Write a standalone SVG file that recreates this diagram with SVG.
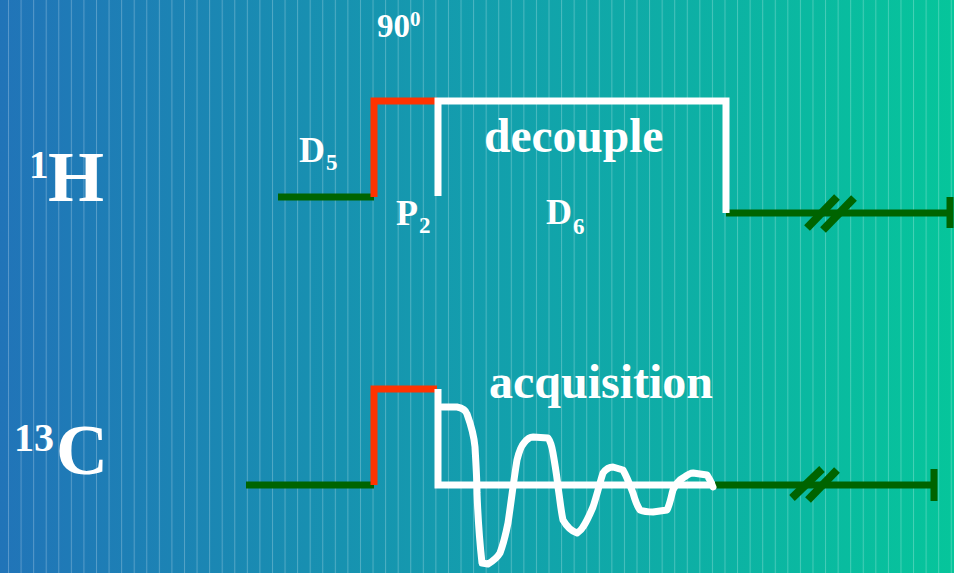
<svg xmlns="http://www.w3.org/2000/svg" width="954" height="573" viewBox="0 0 954 573">
<defs>
<linearGradient id="bg" x1="0" y1="0" x2="1" y2="0">
<stop offset="0" stop-color="#2174b8"/>
<stop offset="0.5" stop-color="#139ead"/>
<stop offset="1" stop-color="#06c59b"/>
</linearGradient>
<pattern id="stripes" x="8" y="0" width="12.57" height="573" patternUnits="userSpaceOnUse">
<rect x="0" y="0" width="1" height="573" fill="#ffffff" fill-opacity="0.25"/>
</pattern>
</defs>
<style>
.t{font-family:"Liberation Serif","Times New Roman",serif;font-weight:bold;fill:#ffffff}
.g{stroke:#006400;stroke-width:7;fill:none}
.r{stroke:#ff3300;stroke-width:7;fill:none}
.w{stroke:#ffffff;stroke-width:7;fill:none}
.s{stroke:#006400;stroke-width:8;fill:none}
</style>
<rect width="954" height="573" fill="url(#bg)"/>
<rect width="954" height="573" fill="url(#stripes)"/>
<g id="connectors">
<line class="g" x1="278" y1="197" x2="374" y2="197"/>
<line class="g" x1="726" y1="213" x2="950" y2="213"/>
<line class="g" x1="950" y1="197" x2="950" y2="228"/>
<line class="s" x1="807" y1="228" x2="837" y2="197"/>
<line class="s" x1="823" y1="230" x2="854" y2="198"/>
<line class="g" x1="246" y1="485" x2="374" y2="485"/>
<line class="g" x1="713" y1="485" x2="934" y2="485"/>
<line class="g" x1="934" y1="469" x2="934" y2="501"/>
<line class="s" x1="792" y1="498" x2="822" y2="469"/>
<line class="s" x1="808" y1="500" x2="837" y2="470"/>
</g>
<g id="h-pulse">
<polyline class="r" points="374,197 374,101 437,101"/>
<polyline class="w" points="438,196 438,101 726,101 726,213"/>
</g>
<g id="c-pulse">
<polyline class="r" points="374,485 374,389 437,389"/>
<polyline class="w" points="438,389 438,485 715,485"/>
</g>
<g id="fid">
<path class="w" stroke-linejoin="round" stroke-linecap="round" d="M442,407 L457,407 C463,408 466,411 467,414 C471,425 474,436 475,447 C476,465 477,480 477,493 C478,520 480,545 482,563 L488,564 C493,561 497,558 500,553 C503,545 506,533 508,523 C511,503 514,478 517,460 C519,452 521,446 524,443 C527,439 530,437 533,437 L548,438 C551,442 552,447 553,453 C555,465 557,476 558,487 C560,500 561,511 563,520 C567,527 571,531 577,533 C580,531 582,529 583,527 C587,521 590,514 593,507 C597,495 600,482 603,473 C606,469 609,467 613,467 L623,470 C627,477 630,485 633,493 C635,500 637,506 640,510 C645,512 649,512 653,512 L667,510 C670,504 671,497 673,490 C676,484 679,480 683,478 C687,475 690,473 693,473 L707,475 C709,478 711,481 713,487"/>
</g>
<g id="labels">
<text class="t" x="377" y="37" font-size="33">90</text>
<text class="t" x="410" y="26" font-size="21">0</text>
<text class="t" x="299" y="162" font-size="36">D</text>
<text class="t" x="326" y="170" font-size="23">5</text>
<text class="t" x="396" y="225" font-size="36">P</text>
<text class="t" x="419" y="233" font-size="23">2</text>
<text class="t" x="546" y="224" font-size="36">D</text>
<text class="t" x="573" y="234" font-size="23">6</text>
<text class="t" x="484" y="152" font-size="47.5">decouple</text>
<text class="t" x="489" y="398" font-size="48">acquisition</text>
<text class="t" x="29" y="178" font-size="39">1</text>
<text class="t" x="48" y="201" font-size="72">H</text>
<text class="t" x="14" y="451" font-size="40">13</text>
<text class="t" x="56" y="474" font-size="72">C</text>
</g>
</svg>
